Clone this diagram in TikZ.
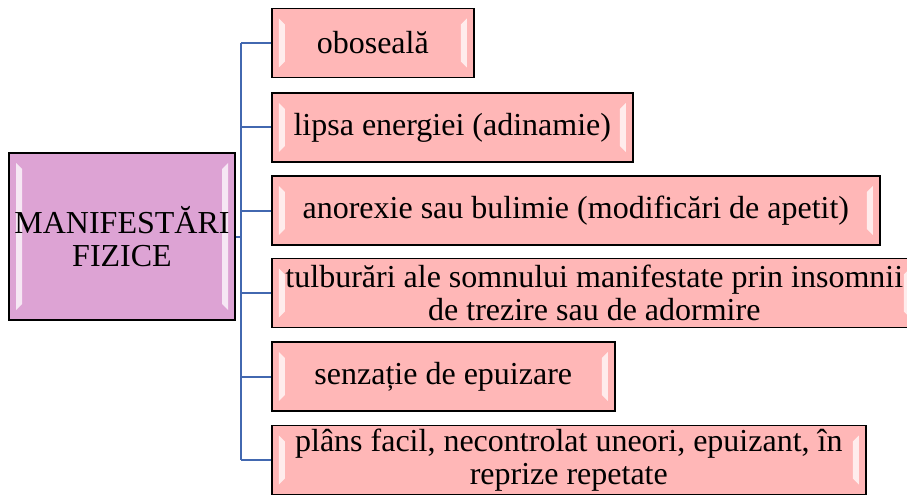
\documentclass[tikz,border=0pt]{standalone}
\usepackage{fontspec}
\setmainfont{Liberation Serif}
\usepackage{xcolor}
\usetikzlibrary{calc,positioning}

\definecolor{boxpink}{HTML}{FFB7B7}
\definecolor{mainplum}{HTML}{DDA3D4}
\definecolor{linkblue}{HTML}{4268B0}

\tikzset{
  bevel/.style={path picture={
      \fill[white,opacity=0.75] ($(path picture bounding box.north west)+(7,10)$) -- ++(6,6)
        |- ($(path picture bounding box.south west)+(13,-16)$) -- ++(-6,6) -- cycle;
      \fill[white,opacity=0.75] ($(path picture bounding box.north east)+(-7,10)$) -- ++(-6,6)
        |- ($(path picture bounding box.south east)+(-13,-16)$) -- ++(6,6) -- cycle;
  }},
  itembox/.style={draw=black, line width=1.6pt, fill=boxpink, bevel, anchor=west,
      minimum height=69pt, inner sep=0pt, align=center,
      font=\fontsize{32}{32.5}\selectfont},
  mainbox/.style={itembox, fill=mainplum, anchor=center, minimum height=167pt},
  conn/.style={draw=linkblue, line width=2pt},
}

\begin{document}
\begin{tikzpicture}[x=1pt,y=-1pt]
        \useasboundingbox (0,0) rectangle (907,497);
        \node[mainbox, minimum width=226pt] (main) at (122,236.5) {MANIFESTĂRI\\FIZICE};
        \coordinate (trunk) at (241,0); % vertical line
        \node[itembox, minimum width=202pt] (b1) at (271,43) {oboseală};
        \node[itembox, minimum width=361pt] (b2) at (271,127.5) {lipsa energiei (adinamie)};
        \node[itembox, minimum width=608pt] (b3) at (271,210.5) {anorexie sau bulimie (modificări de apetit)};
        \node[itembox, minimum width=645pt] (b4) at (271,293) {tulburări ale somnului manifestate prin insomnii\\de trezire sau de adormire};
        \node[itembox, minimum width=343pt] (b5) at (271,376.5) {senzație de epuizare};
        \node[itembox, minimum width=594pt] (b6) at (271,460) {plâns facil, necontrolat uneori, epuizant, în\\reprize repetate};

        % connectors
        \draw[conn] (b1.west -| trunk) -- (b6.west -| trunk);
        \draw[conn] (main.east) -- (main.east -| trunk);
        \foreach \b in {b1,b2,b3,b4,b5,b6}
            \draw[conn] (\b.west -| trunk) -- (\b.west);
\end{tikzpicture}
\end{document}
